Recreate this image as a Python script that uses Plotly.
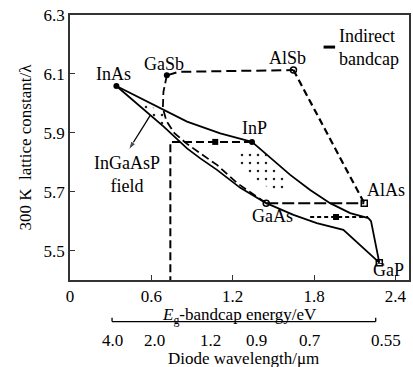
import plotly.graph_objects as go

# ---------------- data ----------------
compounds = ["InAs", "GaSb", "AlSb", "InP", "GaAs", "AlAs", "GaP"]
energy_ev = [0.342, 0.714, 1.648, 1.342, 1.447, 2.17, 2.281]
lattice_a = [6.059, 6.095, 6.113, 5.869, 5.661, 5.661, 5.459]
marker_kind = ["filled", "filled", "open", "filled", "open", "square", "square"]

# solid (direct gap) boundaries
inas_inp_x = [0.342, 0.519, 0.691, 0.863, 1.108, 1.342]
inas_inp_y = [6.059, 6.017, 5.977, 5.938, 5.898, 5.869]
inas_gaas_x = [0.342, 0.519, 0.691, 0.863, 0.961, 1.084, 1.256, 1.447]
inas_gaas_y = [6.059, 5.989, 5.921, 5.847, 5.813, 5.774, 5.713, 5.661]
inp_gap_x = [1.342, 1.476, 1.624, 1.771, 1.918, 2.066, 2.200, 2.220, 2.281]
inp_gap_y = [5.869, 5.817, 5.757, 5.706, 5.661, 5.627, 5.610, 5.600, 5.459]
gaas_gap_x = [1.447, 1.648, 1.820, 2.016, 2.281]
gaas_gap_y = [5.661, 5.621, 5.593, 5.570, 5.459]

# dashed boundaries
gasb_gaas_x = [0.714, 0.689, 0.685, 0.711, 0.770, 0.858, 0.961, 1.084, 1.233, 1.447]
gasb_gaas_y = [6.095, 6.039, 5.984, 5.940, 5.899, 5.864, 5.830, 5.791, 5.729, 5.661]
gasb_alsb_x = [0.714, 0.80, 1.648]
gasb_alsb_y = [6.095, 6.107, 6.113]
alsb_alas_x = [1.648, 2.17]
alsb_alas_y = [6.113, 5.661]
gaas_alas_x = [1.447, 2.17]
gaas_alas_y = [5.661, 5.661]

# lattice-matched guide lines
inp_match_x = [1.342, 0.74, 0.74]
inp_match_y = [5.869, 5.869, 5.4]
inp_match_mark = [1.071, 5.869]
gaas_match_x = [1.771, 2.198]
gaas_match_y = [5.614, 5.614]
gaas_match_mark = [1.962, 5.614]

# InGaAsP field pointer (tail, head)
arrow_x = [0.593, 0.433]
arrow_y = [5.960, 5.842]
field_label_pos = [0.421, 5.760]

# stippled regions of the InGaAsP field
stipple1_x = [0.493, 0.700, 0.722, 0.685, 0.593]
stipple1_y = [6.008, 5.970, 5.933, 5.916, 5.950]
stipple2_x = [1.233, 1.418, 1.587, 1.572, 1.388, 1.256]
stipple2_y = [5.831, 5.842, 5.740, 5.696, 5.729, 5.791]

# axes
x_ticks = [0, 0.6, 1.2, 1.8, 2.4]
y_ticks = [5.5, 5.7, 5.9, 6.1, 6.3]
wavelength_um = [4.0, 2.0, 1.2, 0.9, 0.7, 0.55]
wavelength_lbl = ["4.0", "2.0", "1.2", "0.9", "0.7", "0.55"]

FONT = "Liberation Serif"
BLK = "black"

fig = go.Figure()

def add_line(x, y, dash="solid", width=1.8):
    fig.add_trace(go.Scatter(x=x, y=y, mode="lines", hoverinfo="skip",
                             line=dict(color=BLK, width=width, dash=dash),
                             showlegend=False))

# stipple fills
for sx, sy in [(stipple1_x, stipple1_y), (stipple2_x, stipple2_y)]:
    fig.add_trace(go.Scatter(x=sx + [sx[0]], y=sy + [sy[0]], mode="lines",
                             fill="toself", line=dict(width=0, color="rgba(0,0,0,0)"),
                             fillcolor="rgba(0,0,0,0)",
                             fillpattern=dict(shape=".", size=8, solidity=0.08,
                                              fgcolor="#222", bgcolor="rgba(0,0,0,0)"),
                             hoverinfo="skip", showlegend=False))

add_line(inas_inp_x, inas_inp_y)
add_line(inas_gaas_x, inas_gaas_y)
add_line(inp_gap_x, inp_gap_y)
add_line(gaas_gap_x, gaas_gap_y)
add_line(gasb_gaas_x, gasb_gaas_y, dash="8px,4px")
add_line(gasb_alsb_x, gasb_alsb_y, dash="10px,5px", width=2)
add_line(alsb_alas_x, alsb_alas_y, dash="7px,4px", width=2.2)
add_line(gaas_alas_x, gaas_alas_y, dash="12px,4px", width=2)
add_line(inp_match_x, inp_match_y, dash="8px,4px", width=2)
add_line(gaas_match_x, gaas_match_y, dash="4px,3px", width=2)

# pointer arrow
fig.add_trace(go.Scatter(x=arrow_x, y=arrow_y, mode="lines+markers", hoverinfo="skip",
                         showlegend=False, line=dict(color=BLK, width=1.3),
                         marker=dict(symbol=["circle", "arrow"], size=[0, 9],
                                     angleref="previous", color=BLK)))

# guide-line markers
fig.add_trace(go.Scatter(x=[inp_match_mark[0], gaas_match_mark[0]],
                         y=[inp_match_mark[1], gaas_match_mark[1]],
                         mode="markers", hoverinfo="skip", showlegend=False,
                         marker=dict(symbol="square", size=6, color=BLK)))

# compound markers
style = {"filled": dict(symbol="circle", size=6, color=BLK),
         "open": dict(symbol="circle-open", size=6, color=BLK, line=dict(width=1.5)),
         "square": dict(symbol="square-open", size=6, color=BLK, line=dict(width=1.5))}
for kind, st in style.items():
    xs = [e for e, k in zip(energy_ev, marker_kind) if k == kind]
    ys = [a for a, k in zip(lattice_a, marker_kind) if k == kind]
    fig.add_trace(go.Scatter(x=xs, y=ys, mode="markers", marker=st,
                             hoverinfo="skip", showlegend=False))

# compound labels (pixel offsets from each point)
offsets = {"InAs": (-3, 12), "GaSb": (-3, 11), "AlSb": (-6, 12), "InP": (3, 14),
           "GaAs": (6, -13), "AlAs": (22, 13), "GaP": (9, -7)}
ann = []
for name, e, a in zip(compounds, energy_ev, lattice_a):
    dx, dy = offsets[name]
    ann.append(dict(x=e, y=a, xref="x", yref="y", text=name, showarrow=False,
                    xshift=dx, yshift=dy, font=dict(family=FONT, size=18, color=BLK)))

# InGaAsP field label
ann.append(dict(x=field_label_pos[0], y=field_label_pos[1], xref="x", yref="y",
                text="InGaAsP<br>field", showarrow=False,
                font=dict(family=FONT, size=18, color=BLK)))

# legend for indirect gap
ann.append(dict(x=0.788, y=0.877, xref="paper", yref="paper", xanchor="left",
                yanchor="middle", align="left", text="Indirect<br>bandcap",
                showarrow=False, font=dict(family=FONT, size=18, color=BLK)))

# axis titles
ann.append(dict(x=0, y=0.5, xref="paper", yref="paper", xshift=-45,
                xanchor="center", yanchor="middle", textangle=-90,
                text="300 K  lattice constant/λ", showarrow=False,
                font=dict(family=FONT, size=17, color=BLK)))
ann.append(dict(x=0.5, y=0, xref="paper", yref="paper", yshift=-36, borderpad=0,
                xanchor="center", yanchor="middle",
                text="<i>E</i><sub>g</sub>-bandcap energy/eV", showarrow=False,
                font=dict(family=FONT, size=17, color=BLK)))

# wavelength scale
e_lo = 1.24 / wavelength_um[0]
e_hi = 1.24 / wavelength_um[-1]
for i, (lam, lbl) in enumerate(zip(wavelength_um, wavelength_lbl)):
    ann.append(dict(x=1.24 / lam, y=0, xref="x", yref="paper", yshift=-60, borderpad=0,
                    xshift=10 if i == len(wavelength_um) - 1 else 0,
                    xanchor="center", yanchor="middle", text=lbl, showarrow=False,
                    font=dict(family=FONT, size=17, color=BLK)))
ann.append(dict(x=(e_lo + e_hi) / 2, y=0, xref="x", yref="paper", yshift=-78, borderpad=0,
                xanchor="center", yanchor="middle", text="Diode wavelength/μm",
                showarrow=False, font=dict(family=FONT, size=17, color=BLK)))

shapes = [
    dict(type="line", xref="x", yref="paper", x0=e_lo, x1=e_hi, y0=-0.157, y1=-0.157,
         line=dict(color=BLK, width=1.3)),
    dict(type="line", xref="x", yref="paper", x0=e_lo, x1=e_lo, y0=-0.157, y1=-0.142,
         line=dict(color=BLK, width=1.3)),
    dict(type="line", xref="x", yref="paper", x0=e_hi, x1=e_hi, y0=-0.157, y1=-0.142,
         line=dict(color=BLK, width=1.3)),
    # indirect-gap legend dash
    dict(type="line", xref="paper", yref="paper", x0=0.748, x1=0.782, y0=0.879, y1=0.879,
         line=dict(color=BLK, width=3)),
]

axis_common = dict(showgrid=False, zeroline=False, showline=True, mirror=True,
                   automargin=False,
                   linecolor="#333", linewidth=1.6, ticks="inside", ticklen=5,
                   tickwidth=1.4, tickcolor="#333",
                   tickfont=dict(family=FONT, size=17, color=BLK))

fig.update_layout(
    template="none",
    width=413, height=367,
    margin=dict(l=70, r=4, t=15, b=87, pad=0, autoexpand=False),
    paper_bgcolor="white", plot_bgcolor="white",
    font=dict(family=FONT, color=BLK),
    xaxis=dict(range=[0, 2.5], tickvals=x_ticks,
               ticktext=["0", "0.6", "1.2", "1.8", "2.4"], **axis_common),
    yaxis=dict(range=[5.4, 6.3], tickvals=y_ticks,
               ticktext=["5.5", "5.7", "5.9", "6.1", "6.3"], **axis_common),
    annotations=ann, shapes=shapes, showlegend=False,
)

fig.write_html("out.html", config={"displayModeBar": False},
               post_script="document.body.style.margin='0px';document.body.style.overflow='hidden';")
